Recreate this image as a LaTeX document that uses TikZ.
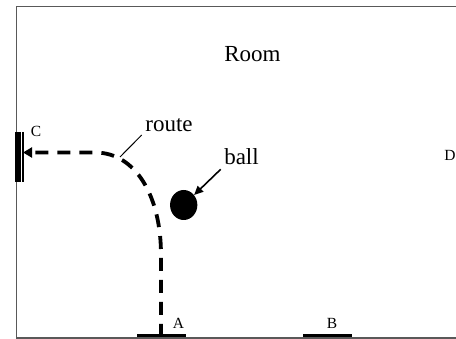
\documentclass[tikz,border=0pt]{standalone}
\usepackage{fontspec}
\setmainfont{Liberation Serif}
\usetikzlibrary{arrows.meta,shapes.geometric}
\begin{document}
\begin{tikzpicture}[x=1pt,y=-1pt,
  big/.style={font=\fontsize{23}{25}\selectfont,inner sep=0pt,anchor=base},
  small/.style={font=\fontsize{15.5}{17}\selectfont,inner sep=0pt,anchor=base},
  wall/.style={draw=black!65,line width=1.5pt},
  door/.style={line width=3pt,black},
  routeline/.style={line width=3.8pt,dash pattern=on 13pt off 9pt},
  pointer/.style={line width=1pt}]
\useasboundingbox (0,0) rectangle (456,339);
% room walls
\draw[wall] (456,6.7) -- (16.7,6.7) -- (16.7,338) -- (456,338);
% door C
\foreach \x in {16.3,19.6,22.9}
  \draw[line width=2.5pt] (\x,132) -- (\x,182);
% doors A and B
\draw[door] (137,335.5) -- (186,335.5);
\draw[door] (303,335.5) -- (352,335.5);
% labels
\node[big] (room) at (252.5,62) {Room};
\node[small] (lc) at (36,137) {C};
\node[small] (ld) at (450,161) {D};
\node[small] (la) at (178.5,329) {A};
\node[small] (lb) at (332,329) {B};
\node[big] (lroute) at (169,131.5) {route};
\node[big] (lball) at (241.5,165) {ball};
% ball
\node[fill=black,ellipse,minimum width=27.3pt,minimum height=30pt,inner sep=0pt] (ball) at (183.7,205) {};
% route
\coordinate (start) at (161,337);
\coordinate (bend) at (161,255);
\coordinate (corner) at (95,152.5);
\coordinate (endC) at (23,152.5);
\draw[routeline,-{Triangle[length=9pt,width=10pt]}] (start) -- (bend)
  .. controls (161,195) and (135,152.5) .. (corner) -- (endC);
% pointers
\coordinate (rp) at (120,157);
\draw[pointer] (141.7,135) -- (rp);
\coordinate (bp) at (220.7,169.3);
\draw[line width=1.6pt,-{Triangle[length=9pt,width=8pt]}] (bp) -- (ball);
\end{tikzpicture}
\end{document}
